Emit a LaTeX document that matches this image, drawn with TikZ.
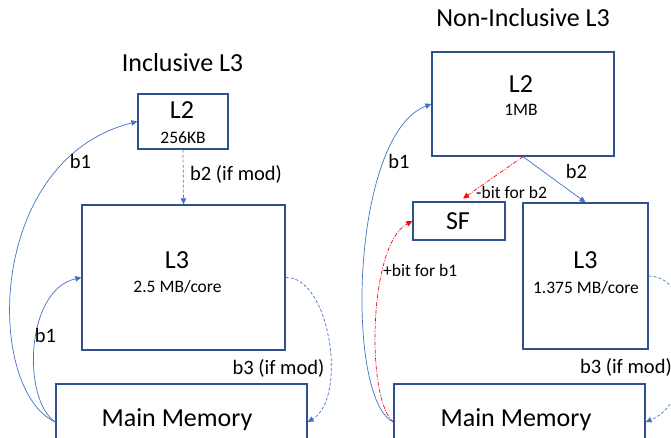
\documentclass[tikz,border=0pt]{standalone}
\usepackage{fontspec}
\setmainfont{Carlito}
\usetikzlibrary{arrows.meta}
\definecolor{boxblue}{HTML}{2F528F}
\definecolor{arrowblue}{HTML}{4472C4}
\definecolor{bitred}{HTML}{FF0000}
\begin{document}
\begin{tikzpicture}[x=1pt,y=-1pt,
  cachebox/.style={draw=boxblue, line width=1.3pt, fill=white, inner sep=0pt},
  big/.style={font=\fontsize{26}{31}\selectfont, inner sep=0pt, anchor=base},
  small/.style={font=\fontsize{17.5}{21}\selectfont, inner sep=0pt, anchor=base},
  lbl/.style={font=\fontsize{20.5}{24}\selectfont, inner sep=0pt, anchor=base},
  bitlbl/.style={font=\fontsize{17.5}{21}\selectfont, inner sep=0pt, anchor=base},
  ttl/.style={font=\fontsize{26}{31}\selectfont, inner sep=0pt, anchor=base},
  tip/.style={-{Triangle[length=6pt,width=5.5pt]}},
  flow/.style={draw=arrowblue, line width=0.7pt, tip},
  flowdash/.style={flow, dash pattern=on 3pt off 2pt},
  bitflow/.style={draw=bitred, line width=0.7pt, tip, dash pattern=on 4pt off 1.5pt on 1pt off 1.5pt}]
\useasboundingbox (0,0) rectangle (671,437);
\clip (0,0) rectangle (671,437);
\fill[white] (0,0) rectangle (671,437);

% ---- Inclusive L3 ----
\node[ttl] (ttla) at (182.5,71) {Inclusive L3};
\node[cachebox, minimum width=90pt, minimum height=55pt] (l2a) at (183,121.5) {};
\node[big] (l2aname) at (182,118) {L2};
\node[small] (l2asize) at (183,143) {256KB};
\node[cachebox, minimum width=203pt, minimum height=145pt] (l3a) at (183.5,277.5) {};
\node[big] (l3aname) at (177,268) {L3};
\node[small] (l3asize) at (177.5,292) {2.5 MB/core};
\node[cachebox, minimum width=251pt, minimum height=76pt] (mma) at (181.5,422) {};
\node[big] (mmaname) at (177,426) {Main Memory};

\draw[flowdash] (l2a.south) -- (l3a.north);
\node[lbl, anchor=base west] (b2a) at (190,180) {b2 (if mod)};
\draw[flow] (mma.west) .. controls (-15,390) and (-15,160) .. (l2a.west);
\node[lbl] (b1a) at (80.5,168) {b1};
\draw[flow] (mma.west) .. controls (22,400) and (25,290) .. (l3a.west);
\node[lbl] (b1b) at (45.5,342) {b1};
\draw[flowdash] (l3a.east) .. controls (330,276) and (348,398) .. (mma.east);
\node[lbl] (b3a) at (278.5,374) {b3 (if mod)};

% ---- Non-Inclusive L3 ----
\node[ttl] (ttlb) at (523,26) {Non-Inclusive L3};
\node[cachebox, minimum width=182pt, minimum height=104pt] (l2b) at (523,104) {};
\node[big] (l2bname) at (521,92) {L2};
\node[small] (l2bsize) at (521,115) {1MB};
\node[cachebox, minimum width=92pt, minimum height=38pt] (sf) at (459,221) {};
\node[big] (sfname) at (458,229) {SF};
\node[cachebox, minimum width=125pt, minimum height=146pt] (l3b) at (585.5,276) {};
\node[big] (l3bname) at (585.5,268) {L3};
\node[small] (l3bsize) at (586,293) {1.375 MB/core};
\node[cachebox, minimum width=251pt, minimum height=76pt] (mmb) at (519.5,422) {};
\node[big] (mmbname) at (516,426) {Main Memory};

\draw[flow] (l2b.south) -- (l3b.north);
\node[lbl] (b2b) at (576.5,178) {b2};
\draw[bitflow, shorten >=5pt] (l2b.south) -- (sf.north);
\node[bitlbl, anchor=base west] (bitb2) at (476,198) {-bit for b2};
\draw[flow] (mmb.west) .. controls (345,400) and (350,135) .. (l2b.west);
\node[lbl] (b1c) at (399,168) {b1};
\draw[bitflow] (mmb.west) .. controls (366,400) and (368,245) .. (sf.west);
\node[bitlbl, anchor=base west] (bitb1) at (383,276) {+bit for b1};
\draw[flowdash] (l3b.east) .. controls (700,276) and (700,400) .. (mmb.east);
\node[lbl, anchor=base east] (b3b) at (672,373) {b3 (if mod)};
\end{tikzpicture}
\end{document}
